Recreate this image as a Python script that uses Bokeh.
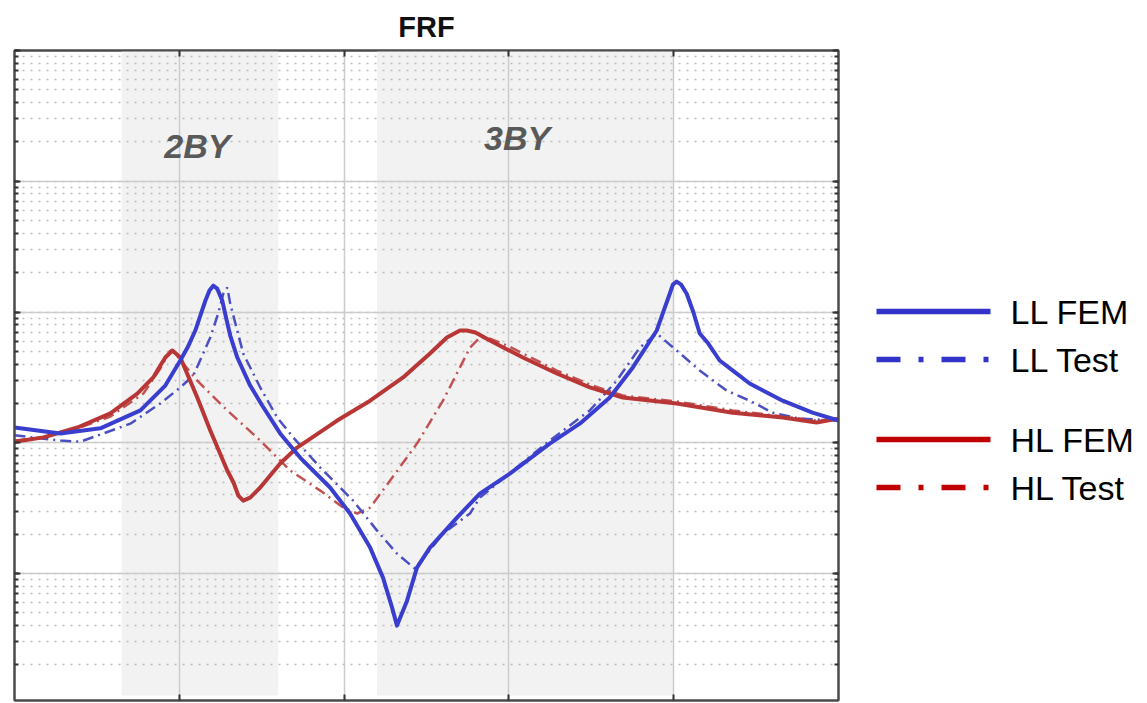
from bokeh.plotting import figure
from bokeh.layouts import row
from bokeh.models import Range1d, LinearAxis, LogAxis, FixedTicker, LogTicker, CustomJSTickFormatter
from bokeh.core.properties import value
from bokeh.embed import file_html
from bokeh.resources import INLINE

# Frequency-response magnitudes (frequency in Hz, amplitude on a log scale)
ll_fem_f = [0, 2.79, 5.21, 7.64, 9.15, 10.06, 10.5, 10.97, 11.58, 11.83, 12.06, 12.3, 12.61,
            12.85, 13.09, 13.52, 14.30, 15.03, 16.12, 17.33, 19.15, 20.36, 21.58, 22.36, 22.91,
            23.21, 23.82, 24.42, 25.21, 26.85, 28.24, 30.06, 32.48, 34.30, 36.12, 37.52, 38.97,
            39.4, 39.76, 39.95, 40.18, 40.45, 40.79, 41.2, 41.58, 42.1, 42.79, 43.75, 44.61,
            46.61, 48.42, 50.0]
ll_fem_a = [0.131, 0.118, 0.129, 0.177, 0.274, 0.426, 0.535, 0.722, 1.22, 1.46, 1.59, 1.51, 1.22,
            0.891, 0.661, 0.449, 0.274, 0.193, 0.118, 0.0771, 0.0455, 0.0288, 0.0158, 0.00931,
            0.00549, 0.00400, 0.00621, 0.0111, 0.0158, 0.0268, 0.0409, 0.0582, 0.0986, 0.140,
            0.222, 0.377, 0.722, 1.03, 1.38, 1.62, 1.71, 1.62, 1.38, 0.991, 0.685, 0.574, 0.426,
            0.344, 0.284, 0.210, 0.170, 0.148]

ll_test_f = [0, 2.79, 4.0, 7.03, 8.85, 10.06, 10.85, 11.88, 12.36, 12.67, 12.91, 13.09, 13.88,
             14.91, 15.94, 16.91, 18.55, 20.55, 22.0, 23.21, 24.30, 25.03, 26.0, 27.64, 28.24,
             32.48, 34.91, 36.55, 37.94, 38.97, 40.18, 41.58, 43.21, 44.61, 46.0, 47.64, 50.0]
ll_test_a = [0.114, 0.104, 0.102, 0.140, 0.200, 0.265, 0.327, 0.638, 0.975, 1.38, 1.54, 1.16,
             0.482, 0.265, 0.156, 0.110, 0.0647, 0.0361, 0.0213, 0.0142, 0.0109, 0.0142, 0.0202,
             0.0288, 0.0381, 0.104, 0.177, 0.299, 0.535, 0.685, 0.508, 0.357, 0.251, 0.210,
             0.170, 0.153, 0.148]

hl_fem_f = [0, 1.76, 3.82, 5.82, 7.45, 8.42, 8.74, 9.15, 9.58, 10.06, 11.09, 11.88, 12.91, 13.29,
            13.58, 13.88, 14.30, 14.91, 16.12, 17.15, 19.58, 21.58, 23.58, 25.21, 26.24, 27.03,
            27.45, 27.97, 28.85, 30.85, 32.91, 34.91, 36.91, 40.18, 43.58, 46.61, 48.67, 50.0]
hl_fem_a = [0.102, 0.110, 0.131, 0.168, 0.238, 0.316, 0.370, 0.449, 0.508, 0.449, 0.222, 0.124,
            0.0614, 0.0497, 0.0395, 0.0361, 0.0381, 0.0455, 0.0694, 0.0920, 0.148, 0.210, 0.316,
            0.482, 0.638, 0.722, 0.722, 0.697, 0.605, 0.449, 0.339, 0.265, 0.222, 0.200, 0.170,
            0.156, 0.143, 0.153]

hl_test_f = [0, 1.76, 3.82, 5.82, 7.82, 8.85, 9.45, 9.70, 11.09, 12.91, 14.91, 16.73, 18.55,
             19.94, 20.79, 21.58, 22.79, 24.42, 26.0, 27.03, 27.64, 28.24, 28.85, 29.88, 32.91,
             34.91, 36.91, 40.18, 43.58, 46.61, 48.67, 50.0]
hl_test_a = [0.104, 0.110, 0.129, 0.159, 0.238, 0.370, 0.508, 0.490, 0.299, 0.177, 0.104, 0.0614,
             0.0431, 0.0320, 0.0288, 0.0320, 0.0514, 0.0986, 0.210, 0.377, 0.535, 0.638, 0.627,
             0.555, 0.357, 0.279, 0.230, 0.207, 0.177, 0.159, 0.148, 0.153]

# Bay bands (frequency spans) and their labels
band_names = ["2BY", "3BY"]
band_start = [6.5, 22.0]
band_end = [16.0, 40.0]
band_label_f = [11.1, 30.5]
band_label_a = [18.7, 21.6]

series_names = ["LL FEM", "LL Test", "HL FEM", "HL Test"]

X_MIN, X_MAX = 0, 50
Y_MIN, Y_MAX = 0.00107, 100
BAND_FLOOR = 0.00117

BLUE = "#3a3ecf"
BLUE_T = "#4b4fc2"
RED = "#b93636"
RED_T = "#c25252"
FRAME = "#4a4a4a"
FONT = "Liberation Sans"

p = figure(width=850, height=703, x_range=Range1d(X_MIN, X_MAX), y_range=Range1d(Y_MIN, Y_MAX),
           y_axis_type="log", output_backend="svg", toolbar_location=None,
           min_border_left=14, min_border_right=12, min_border_top=50, min_border_bottom=3,
           title="FRF")
p.title.align = "center"
p.title.vertical_align = "top"
p.title.text_font = FONT
p.title.text_font_size = "29px"
p.title.text_font_style = "bold"
p.title.text_color = "#111111"
p.title.standoff = 12
p.background_fill_color = "white"
p.border_fill_color = "white"
p.outline_line_color = FRAME
p.outline_line_width = 2

# shaded bands sit beneath the grid
p.quad(left=band_start, right=band_end, bottom=BAND_FLOOR, top=Y_MAX,
       fill_color="#f2f2f2", line_color=None, level="image")

p.add_layout(LinearAxis(), "above")
p.add_layout(LogAxis(), "right")
blank = CustomJSTickFormatter(code="return ''")
for ax in p.xaxis:
    ax.ticker = FixedTicker(ticks=[10, 20, 30, 40])
for ax in p.yaxis:
    ax.ticker = LogTicker(mantissas=[1], num_minor_ticks=10)
for ax in p.axis:
    ax.formatter = blank
    ax.major_label_standoff = 0
    ax.major_tick_out = 0
    ax.major_tick_in = 6
    ax.minor_tick_out = 0
    ax.minor_tick_in = 4
    ax.axis_line_color = FRAME
    ax.axis_line_width = 2
    ax.major_tick_line_color = "#333333"
    ax.major_tick_line_width = 2
    ax.minor_tick_line_color = "#333333"
    ax.minor_tick_line_width = 2
for ax in p.xaxis:
    ax.minor_tick_in = 0

p.xgrid.grid_line_color = "#cccccc"
p.xgrid.grid_line_width = 1.5
p.ygrid.grid_line_color = "#cccccc"
p.ygrid.grid_line_width = 1.5
p.ygrid.minor_grid_line_color = "#bdbdbd"
p.ygrid.minor_grid_line_width = 1.6
p.ygrid.minor_grid_line_dash = "2 6"

p.text(x=band_label_f, y=band_label_a, text=band_names, text_font=value(FONT),
       text_font_size="34px", text_font_style="bold italic", text_color="#595959",
       text_align="center", text_baseline="middle")

p.line(hl_test_f, hl_test_a, line_color=RED_T, line_width=2.5, line_dash="11 5 2 5")
p.line(ll_test_f, ll_test_a, line_color=BLUE_T, line_width=2.5, line_dash="11 5 2 5")
p.line(hl_fem_f, hl_fem_a, line_color=RED, line_width=4, line_join="round")
p.line(ll_fem_f, ll_fem_a, line_color=BLUE, line_width=4, line_join="round")

# legend panel drawn in its own pixel-scaled canvas (frame aligned with the chart's frame)
LEG_W = 297
lg = figure(width=LEG_W, height=703, x_range=Range1d(850, 850 + LEG_W), y_range=Range1d(700, 50),
            output_backend="svg", toolbar_location=None, min_border=0,
            x_axis_location=None, y_axis_location=None)
lg.grid.visible = False
lg.outline_line_color = None
lg.background_fill_color = "white"
lg.border_fill_color = "white"

leg_y = [311, 359, 439, 487]
leg_colors = ["#3333cc", "#3333cc", "#c00000", "#c00000"]
leg_dash = ["solid", "24 18 5 18", "solid", "24 18 5 18"]
for yy, col, dash in zip(leg_y, leg_colors, leg_dash):
    lg.line([876, 990], [yy, yy], line_color=col, line_width=5.5, line_dash=dash)
lg.text(x=[1010] * 4, y=leg_y, text=series_names, text_font=value(FONT),
        text_font_size="34px", text_color="black", text_baseline="middle")

layout = row(p, lg)
open("out.html", "w").write(file_html(layout, INLINE))
